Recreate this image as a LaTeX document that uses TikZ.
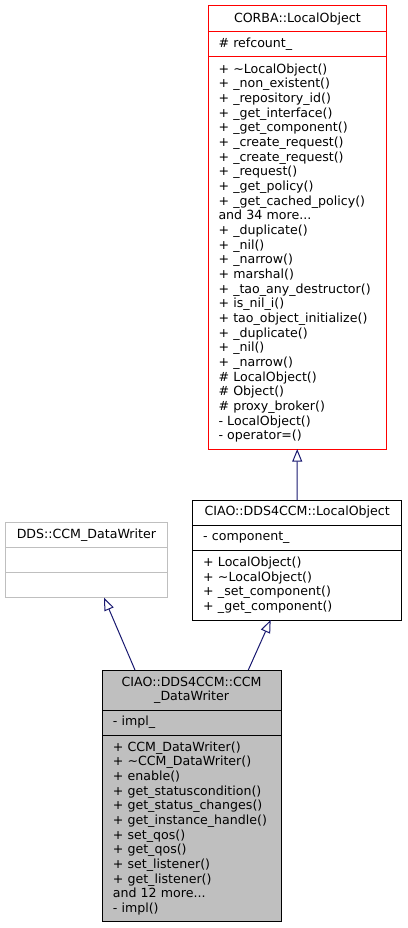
\documentclass[tikz,border=0pt]{standalone}
\usepackage{fontspec}
\setmainfont{DejaVu Sans}
\usetikzlibrary{arrows.meta, positioning, calc}
\definecolor{edgeblue}{HTML}{191970}
\definecolor{boxgray}{HTML}{BFBFBF}

\begin{document}
\begin{tikzpicture}[x=1pt, y=-1pt, classtitle/.style={draw, rectangle,
      align=center, inner xsep=10.5pt, inner ysep=0pt, outer sep=0pt,
      line width=1pt, font=\fontsize{12.6}{14.67}\selectfont},
      classpart/.style={draw, rectangle, align=left, inner xsep=10.5pt,
      inner ysep=0pt, outer sep=0pt, line width=1pt,
      font=\fontsize{12.6}{14.67}\selectfont}, inherit/.style={line
      width=1pt, edgeblue, -{Triangle[open, length=12.7pt, width=10pt]}} ]

    \useasboundingbox (0,0) rectangle (407,928);

    % CORBA::LocalObject
    \node[classtitle, red, text=black, text width=157.7pt, minimum
    height=26pt, anchor=north west] (corbatitle) at (208,6)
    {CORBA::LocalObject};
    \node[classpart, red, text=black, text width=157.7pt, minimum
    height=25pt, below=0pt of corbatitle] (corbaattr) {\# refcount\_};
    \node[classpart, red, text=black, text width=157.7pt, minimum
    height=392pt, below=0pt of corbaattr] (corbaops) {+ \textasciitilde
    LocalObject()\\+ \_non\_existent()\\+ \_repository\_id()\\+
    \_get\_interface()\\+ \_get\_component()\\+ \_create\_request()\\+
    \_create\_request()\\+ \_request()\\+ \_get\_policy()\\+
    \_get\_cached\_policy()\\and 34 more...\\+ \_duplicate()\\+
    \_nil()\\+ \_narrow()\\+ marshal()\\+ \_tao\_any\_destructor()\\+
    is\_nil\_i()\\+ tao\_object\_initialize()\\+ \_duplicate()\\+
    \_nil()\\+ \_narrow()\\\# LocalObject()\\\# Object()\\\#
    proxy\_broker()\\- LocalObject()\\- operator=()};

    % CIAO::DDS4CCM::LocalObject
    \node[classtitle, text width=188pt, minimum height=25pt, anchor=north
    west] (lotitle) at (192.7,500) {CIAO::DDS4CCM::LocalObject};
    \node[classpart, text width=188pt, minimum height=25.7pt, below=0pt of
    lotitle] (loattr) {- component\_};
    \node[classpart, text width=188pt, minimum height=69.3pt, below=0pt of
    loattr] (loops) {+ LocalObject()\\+ \textasciitilde LocalObject()\\+
    \_set\_component()\\+ \_get\_component()};

    % DDS::CCM_DataWriter
    \node[classtitle, boxgray, text=black, text width=141.7pt, minimum
    height=25pt, anchor=north west] (ddstitle) at (5,522.3)
    {DDS::CCM\_DataWriter};
    \node[classpart, boxgray, text width=141.7pt, minimum height=25.4pt,
    below=0pt of ddstitle] (ddsattr) {};
    \node[classpart, boxgray, text width=141.7pt, minimum height=25pt,
    below=0pt of ddsattr] (ddsops) {};

    % CIAO::DDS4CCM::CCM_DataWriter
    \node[classtitle, fill=boxgray, text width=157.7pt, minimum
    height=40.3pt, anchor=north west] (cdwtitle) at (102.3,670)
    {CIAO::DDS4CCM::CCM\\\_DataWriter};
    \node[classpart, fill=boxgray, text width=157.7pt, minimum
    height=24.7pt, below=0pt of cdwtitle] (cdwattr) {- impl\_};
    \node[classpart, fill=boxgray, text width=157.7pt, minimum
    height=186.7pt, below=0pt of cdwattr] (cdwops) {+
    CCM\_DataWriter()\\+ \textasciitilde CCM\_DataWriter()\\+
    enable()\\+ get\_statuscondition()\\+ get\_status\_changes()\\+
    get\_instance\_handle()\\+ set\_qos()\\+ get\_qos()\\+
    set\_listener()\\+ get\_listener()\\and 12 more...\\- impl()};

    % Inheritance arrows
    \draw[inherit] (lotitle) -- (corbaops);
    \draw[inherit] ($(cdwtitle.north west)!0.183!(cdwtitle.north east)$)
    -- ($(ddsops.south west)!0.609!(ddsops.south east)$);
    \draw[inherit] ($(cdwtitle.north west)!0.817!(cdwtitle.north east)$)
    -- ($(loops.south west)!0.373!(loops.south east)$);

\end{tikzpicture}
\end{document}
